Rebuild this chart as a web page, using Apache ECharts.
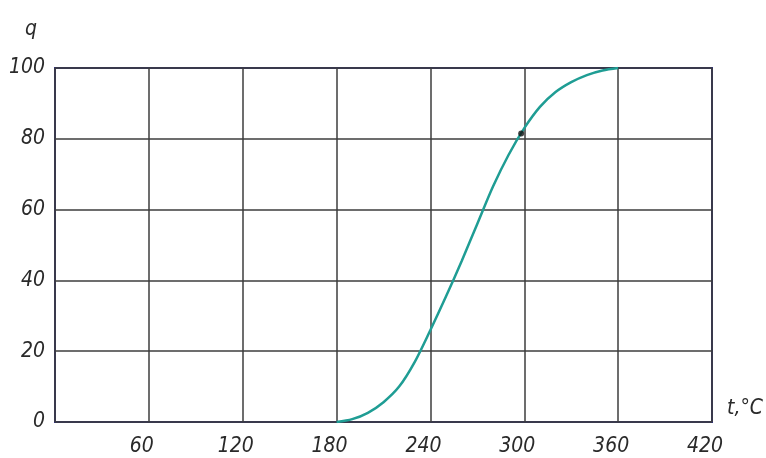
<!DOCTYPE html>
<html>
<head>
<meta charset="utf-8">
<script src="https://cdn.jsdelivr.net/npm/echarts@6/dist/echarts.min.js"></script>
<style>
html,body{margin:0;padding:0;background:#fff;}
#c{width:766px;height:458px;}
</style>
</head>
<body>
<div id="c"></div>
<script>
// Data
const temps   = [180, 190, 200, 210, 220, 230, 240, 250, 260, 270, 280, 290, 300, 310, 320, 330, 340, 350, 360];
const qValues = [0, 0.8, 2.6, 5.6, 10, 17, 26, 35.5, 45.5, 56, 66.5, 75.5, 83, 89, 93.2, 96, 98, 99.3, 100];
const dotT = [298];
const dotQ = [81.5];
const xTicks = [0, 60, 120, 180, 240, 300, 360, 420];
const yTicks = [0, 20, 40, 60, 80, 100];
const yAxisName = 'q';
const xAxisName = 't,\u00B0C';

const FONT = "'DejaVu Sans Condensed', 'Liberation Sans Narrow', sans-serif";
const chart = echarts.init(document.getElementById('c'), null, {renderer: 'canvas'});
chart.setOption({
  animation: false,
  backgroundColor: '#ffffff',
  grid: {left: 55, right: 54, top: 68, bottom: 36, show: true, borderColor: '#30307e', borderWidth: 2, backgroundColor: 'transparent'},
  xAxis: {
    type: 'value', min: xTicks[0], max: xTicks[xTicks.length - 1], interval: 60,
    axisLine: {show: false}, axisTick: {show: false},
    splitLine: {show: true, lineStyle: {color: '#3c3c3c', width: 1.5}},
    axisLabel: {
      margin: 14, color: '#2a2a2a', fontSize: 21, fontStyle: 'italic', fontFamily: FONT,
      padding: [0, 14, 0, 0],
      formatter: v => (v === 0 ? '' : String(v))
    }
  },
  yAxis: {
    type: 'value', min: yTicks[0], max: yTicks[yTicks.length - 1], interval: 20,
    axisLine: {show: false}, axisTick: {show: false},
    splitLine: {show: true, lineStyle: {color: '#3c3c3c', width: 1.5}},
    axisLabel: {margin: 10, color: '#2a2a2a', fontSize: 21, fontStyle: 'italic', fontFamily: FONT}
  },
  graphic: [
    {type: 'text', left: 25, top: 19, style: {text: yAxisName, fill: '#2a2a2a', font: 'italic 21px ' + FONT}},
    {type: 'text', left: 727, top: 398, style: {text: xAxisName, fill: '#2a2a2a', font: 'italic 21px ' + FONT}}
  ],
  series: [
    {
      type: 'line', data: temps.map((t, i) => [t, qValues[i]]),
      smooth: 0.3, showSymbol: false,
      lineStyle: {color: '#1f9d94', width: 2.5}, z: 3
    },
    {
      type: 'scatter', data: dotT.map((t, i) => [t, dotQ[i]]),
      symbolSize: 6, itemStyle: {color: '#111'}, z: 4
    }
  ]
});
</script>
</body>
</html>
